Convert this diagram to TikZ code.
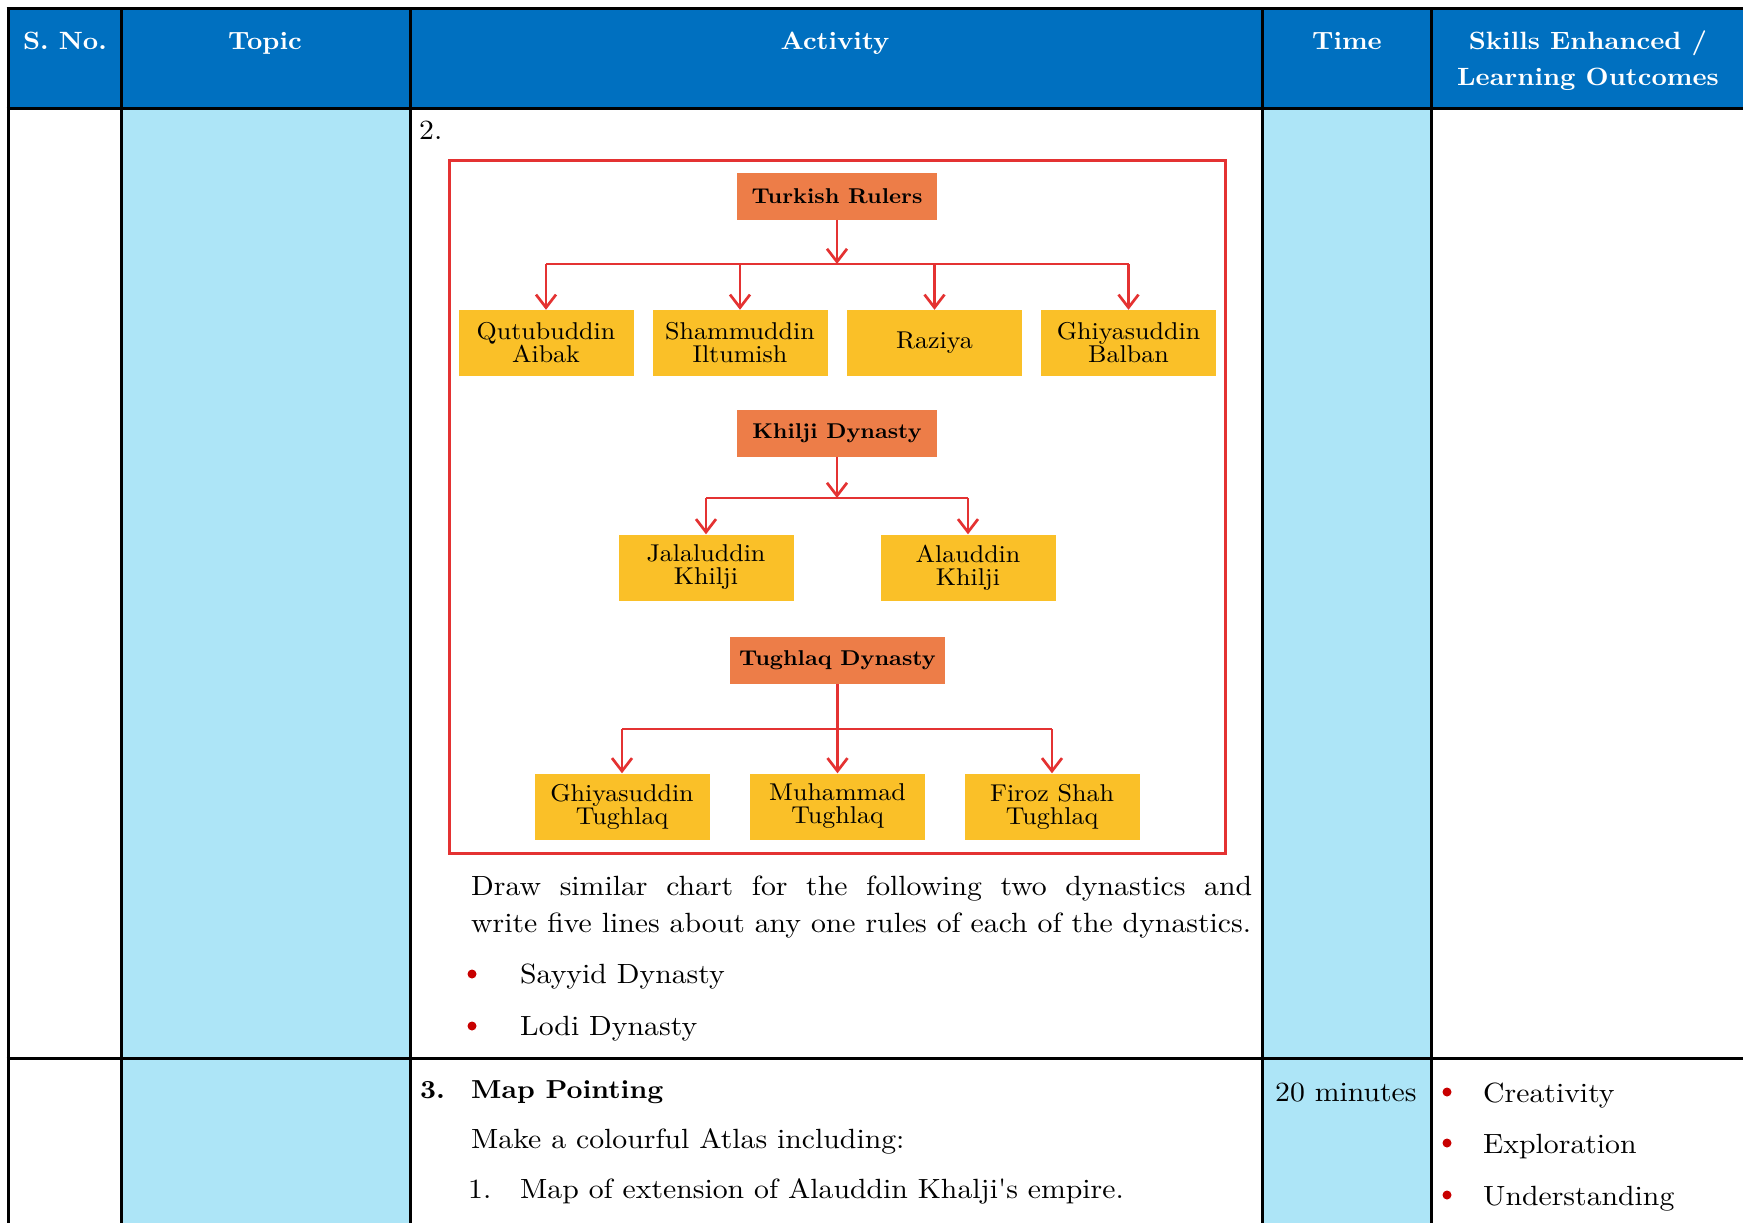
\documentclass[tikz,border=0pt]{standalone}
\usepackage{fontspec}
\setmainfont{lmroman10}[Extension=.otf, UprightFont=*-regular, BoldFont=*-bold,
  ItalicFont=*-italic, BoldItalicFont=*-bolditalic, FakeStretch=1.07]
\newfontfamily\plainquote{lmroman10-regular.otf}[FakeStretch=1.07]
\usetikzlibrary{arrows.meta}

\definecolor{hdrblue}{RGB}{0,112,192}
\definecolor{colblue}{RGB}{173,229,247}
\definecolor{dynorange}{RGB}{237,125,72}
\definecolor{rulergold}{RGB}{250,192,40}
\definecolor{chartred}{RGB}{228,50,50}
\definecolor{bulletred}{RGB}{200,0,0}

\tikzset{
  hdr/.style={text=white,font=\bfseries\fontsize{25}{30}\selectfont,anchor=base,inner sep=0pt},
  body/.style={font=\fontsize{27.8}{37}\selectfont,anchor=base west,inner sep=0pt},
  dynbox/.style={fill=dynorange,font=\bfseries\fontsize{21.4}{26}\selectfont,
    minimum width=200pt,minimum height=47pt,inner sep=0pt},
  rulerbox/.style={fill=rulergold,font=\fontsize{24.3}{23}\selectfont,align=center,
    minimum width=175pt,minimum height=66pt,inner sep=0pt},
  link/.style={draw=chartred,line width=2.7pt},
  arrowlink/.style={-{Straight Barb[length=13pt,width=20pt]}},
  rule/.style={line width=3pt}
}

\begin{document}
\begin{tikzpicture}[x=1pt,y=-1pt]
    \useasboundingbox (0,0) rectangle (1743,1223);
    \fill[white] (0,0) rectangle (1743,1223);
    % table background
    \fill[hdrblue] (8,9) rectangle (1743,108);
    \fill[colblue] (121,108) rectangle (410,1223);
    \fill[colblue] (1262,108) rectangle (1431,1223);
    \foreach \y in {9,108,1058}
        \draw[rule] (6.5,\y) -- (1743,\y);
    \foreach \x in {8,121,410,1262,1431}
        \draw[rule] (\x,7.5) -- (\x,1223);

    % header
    \node[hdr] (hsno) at (65,50) {S. No.};
    \node[hdr] (htopic) at (265,50) {Topic};
    \node[hdr] (hact) at (835,50) {Activity};
    \node[hdr] (htime) at (1347,50) {Time};
    \node[hdr] (hskill) at (1588,49) {Skills Enhanced /};
    \node[hdr] (hlearn) at (1588,85) {Learning Outcomes};

    % row 2: chart
    \node[body] (two) at (419,139) {2.};
    \draw[chartred,line width=3pt] (449,160) rectangle (1225,853);

    \node[dynbox] (turk) at (837,196) {Turkish Rulers};
    \foreach \n/\x/\txt in {qutb/546/Qutubuddin\\Aibak, iltu/740/Shammuddin\\Iltumish,
        raziya/934.5/Raziya, balban/1128.5/Ghiyasuddin\\Balban}
        \node[rulerbox] (\n) at (\x,343) {\txt};
    \coordinate (tj) at (837,264);
    \draw[link,arrowlink] (turk) -- (tj);
    \draw[link] (qutb |- tj) -- (balban |- tj);
    \foreach \n in {qutb,iltu,raziya,balban}
        \draw[link,arrowlink] (\n |- tj) -- (\n);

    \node[dynbox] (khilji) at (837,433) {Khilji Dynasty};
    \node[rulerbox] (jalal) at (706,567.5) {Jalaluddin\\Khilji};
    \node[rulerbox] (alaud) at (968,567.5) {Alauddin\\Khilji};
    \coordinate (kj) at (837,498);
    \draw[link,arrowlink] (khilji) -- (kj);
    \draw[link] (jalal |- kj) -- (alaud |- kj);
    \foreach \n in {jalal,alaud}
        \draw[link,arrowlink] (\n |- kj) -- (\n);

    \node[dynbox,minimum width=215pt] (tughlaq) at (837.5,660.5) {Tughlaq Dynasty};
    \foreach \n/\x/\txt in {gtugh/622/Ghiyasuddin\\Tughlaq, muham/837.5/Muhammad\\Tughlaq,
        firoz/1052/Firoz Shah\\Tughlaq}
        \node[rulerbox] (\n) at (\x,806.5) {\txt};
    \coordinate (gj) at (837.5,729);
    \draw[link] (gtugh |- gj) -- (firoz |- gj);
    \draw[link,arrowlink] (tughlaq) -- (muham);
    \foreach \n in {gtugh,firoz}
        \draw[link,arrowlink] (\n |- gj) -- (\n);

    \node[body,anchor=north west,text width=781pt,align=justify] (task) at (471,876)
        {\hyphenpenalty=10000 Draw similar chart for the following two dynastics and\linebreak
         write five lines about any one rules of each of the dynastics.};
    \foreach \n/\y/\txt in {sayyid/983/Sayyid Dynasty, lodi/1035/Lodi Dynasty} {
        \node[body] (\n) at (520,\y) {\txt};
        \fill[bulletred] ([xshift=-48pt,yshift=9pt]\n.base west) circle[radius=4.5pt];
    }

    % row 3: map pointing
    \node[body,font=\bfseries\fontsize{26}{34}\selectfont] (three) at (420,1098) {3.};
    \node[body,font=\bfseries\fontsize{26}{34}\selectfont] (mapp) at (471,1098) {Map Pointing};
    \node[body] (atlas) at (471,1148) {Make a colourful Atlas including:};
    \node[body] (one) at (468,1198) {1.};
    \node[body] (empire) at (520,1198) {Map of extension of Alauddin Khalji{\plainquote '}s empire.};
    \node[body] (mins) at (1275,1101) {20 minutes};
    \foreach \n/\y/\txt in {creat/1102/Creativity, explo/1153/Exploration, under/1205/Understanding} {
        \node[body] (\n) at (1483,\y) {\txt};
        \fill[bulletred] ([xshift=-36pt,yshift=10pt]\n.base west) circle[radius=4.5pt];
    }
\end{tikzpicture}
\end{document}
